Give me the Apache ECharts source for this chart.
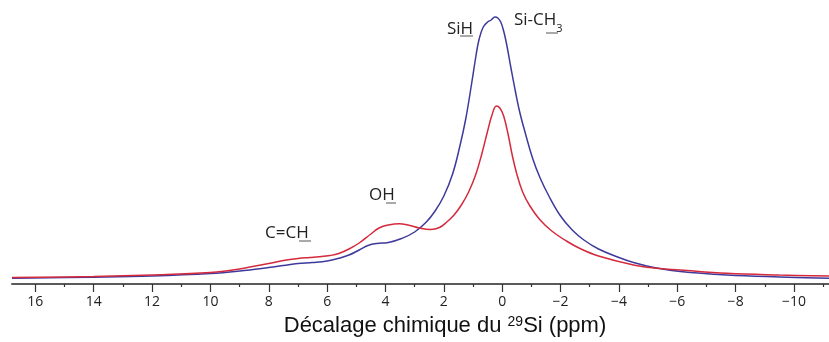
<!DOCTYPE html>
<html>
<head>
<meta charset="utf-8">
<script src="https://cdn.jsdelivr.net/npm/echarts@6/dist/echarts.min.js"></script>
<style>
html,body{margin:0;padding:0;background:#fff;}
#chart{width:829px;height:342px;}
</style>
</head>
<body>
<div id="chart"></div>
<script>
// chemical shift (ppm) and intensity (arbitrary units)
var bluePpm = [16.8, 14, 12, 10, 9, 8, 7.5, 7, 6.5, 6.0, 5.6, 5.25, 4.9, 4.6, 4.3, 3.9, 3.45, 3.0, 2.6, 2.3, 2.0, 1.7, 1.45, 1.25, 1.05, 0.9, 0.79, 0.65, 0.5, 0.38, 0.25, 0.15, 0.05, -0.05, -0.15, -0.3, -0.45, -0.6, -0.8, -1.05, -1.3, -1.6, -2.0, -2.4, -2.8, -3.3, -4.0, -4.5, -5.2, -6.1, -7.7, -9.5, -11.2];
var blueVal = [5.8, 6.8, 8, 10.5, 13, 16.5, 18.5, 20.5, 21.5, 23, 25.7, 29, 34, 38.5, 40.5, 41.5, 45.5, 52, 62, 73, 88, 110, 138, 165, 200, 228, 245, 257, 262, 264, 267, 266, 262, 253, 240, 216, 193, 172, 150, 125, 106, 88, 68, 54, 44, 35, 26.5, 21.5, 16.5, 12.5, 9, 7, 5.7];
var redPpm = [16.8, 14, 12, 10, 9, 8, 7.5, 7, 6.6, 6.28, 5.9, 5.6, 5.25, 4.9, 4.5, 4.22, 3.9, 3.53, 3.2, 2.85, 2.45, 2.15, 1.9, 1.65, 1.4, 1.15, 0.9, 0.7, 0.5, 0.35, 0.2, 0.08, -0.05, -0.2, -0.35, -0.5, -0.7, -0.95, -1.3, -1.7, -2.2, -2.7, -3.3, -4.5, -5.2, -6.1, -7.7, -9.5, -11.2];
var redVal = [6.5, 7.5, 9, 11.5, 15, 20.5, 23.5, 25.5, 26.5, 27.2, 28.5, 30.5, 35, 41, 50, 56, 59, 60.3, 58.8, 56, 54.5, 56.5, 62, 69, 79, 92, 110, 130, 153, 169, 178, 176, 168, 150, 128, 110, 92, 78, 64, 53, 43, 35, 28, 19, 16, 14, 10.7, 9, 8];
var majorTicks = [16, 14, 12, 10, 8, 6, 4, 2, 0, -2, -4, -6, -8, -10];
var minorTicks = [15, 13, 11, 9, 7, 5, 3, 1, -1, -3, -5, -7, -9, -11];
var xTitle = 'Décalage chimique du {sup|29}Si (ppm)';

function pairs(xs, ys){ return xs.map(function(x,i){ return [x, ys[i]]; }); }

var chart = echarts.init(document.getElementById('chart'));
var axisCommon = {
  type: 'value', inverse: true, min: -11.2, max: 16.8,
  splitLine: {show: false}
};
chart.setOption({
  animation: false,
  grid: {left: 12, right: 0, top: 4, bottom: 58},
  xAxis: [
    Object.assign({}, axisCommon, {
      position: 'bottom',
      axisLine: {show: true, lineStyle: {color: '#5a5a5a', width: 2}},
      axisTick: {show: true, length: 8, customValues: majorTicks, lineStyle: {color: '#333', width: 1.2}},
      axisLabel: {
        customValues: majorTicks, margin: 11,
        fontFamily: 'Open Sans', fontSize: 14, color: '#222',
        formatter: function(v){ return String(v).replace('-', '\u2212'); }
      }
    }),
    Object.assign({}, axisCommon, {
      position: 'bottom',
      axisLine: {show: false},
      axisTick: {show: true, length: 3, customValues: minorTicks, lineStyle: {color: '#333', width: 1.2}},
      axisLabel: {show: false}
    })
  ],
  yAxis: {type: 'value', min: 0, max: 280, show: false},
  series: [
    {
      name: 'blue', type: 'line', data: pairs(bluePpm, blueVal), xAxisIndex: 0,
      showSymbol: false, smooth: 0.4,
      lineStyle: {color: '#3e3a9c', width: 1.5}, z: 3
    },
    {
      name: 'red', type: 'line', data: pairs(redPpm, redVal), xAxisIndex: 0,
      showSymbol: false, smooth: 0.4,
      lineStyle: {color: '#d42a3c', width: 1.5}, z: 4
    }
  ],
  graphic: [
    {type: 'text', x: 445, y: 326, style: {
      text: xTitle, fontFamily: 'Liberation Sans', fontSize: 22, fill: '#111', align: 'center', verticalAlign: 'middle',
      rich: {sup: {fontSize: 14, fontFamily: 'Liberation Sans', fill: '#111', verticalAlign: 'top', lineHeight: 12}}
    }},
    {type: 'text', x: 447, y: 29, style: {text: 'SiH', fontFamily: 'Open Sans', fontSize: 17, fill: '#222', verticalAlign: 'middle'}},
    {type: 'line', shape: {x1: 460, y1: 36, x2: 473, y2: 36}, style: {stroke: '#555', lineWidth: 1}},
    {type: 'text', x: 514, y: 20, style: {text: 'Si-CH{sub|3}', fontFamily: 'Open Sans', fontSize: 17, fill: '#222', verticalAlign: 'middle',
      rich: {sub: {fontSize: 11, fontFamily: 'Open Sans', fill: '#222', verticalAlign: 'bottom', padding: [0,0,-6,0]}}}},
    {type: 'line', shape: {x1: 546, y1: 33, x2: 558, y2: 33}, style: {stroke: '#555', lineWidth: 1}},
    {type: 'text', x: 369, y: 195, style: {text: 'OH', fontFamily: 'Open Sans', fontSize: 17, fill: '#222', verticalAlign: 'middle'}},
    {type: 'line', shape: {x1: 386, y1: 203, x2: 396, y2: 203}, style: {stroke: '#555', lineWidth: 1}},
    {type: 'text', x: 265, y: 233, style: {text: 'C=CH', fontFamily: 'Open Sans', fontSize: 17, fill: '#222', verticalAlign: 'middle'}},
    {type: 'line', shape: {x1: 299, y1: 241, x2: 311, y2: 241}, style: {stroke: '#555', lineWidth: 1}}
  ]
});
</script>
</body>
</html>
